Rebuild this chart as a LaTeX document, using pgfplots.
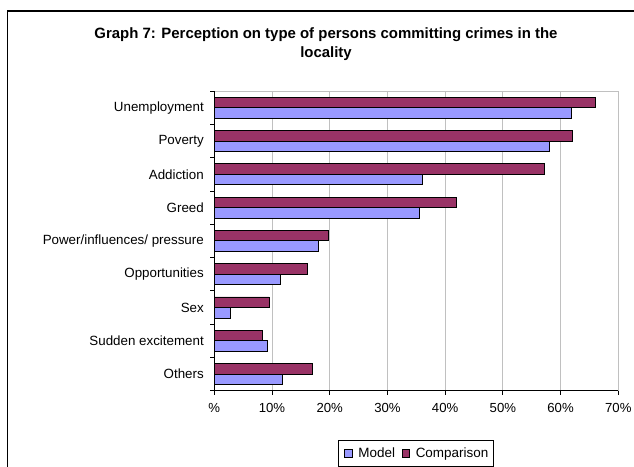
\documentclass[border=0pt]{standalone}
\usepackage{pgfplots}
\pgfplotsset{compat=1.18}
\usepackage{fontspec}
\setmainfont{Liberation Sans}
\definecolor{modelc}{HTML}{9999FF}
\definecolor{compc}{HTML}{993366}
\definecolor{gridgray}{HTML}{C0C0C0}
\begin{document}
\begin{tikzpicture}
\useasboundingbox (0bp,0bp) rectangle (634bp,-467bp);
\clip (0bp,0bp) rectangle (634bp,-467bp);
\fill[white] (0bp,0bp) rectangle (634bp,-467bp);
\draw[black, line width=1.5bp] (7.3bp,-11bp) rectangle (700bp,-520bp);
\node[font=\fontsize{15}{19}\selectfont\bfseries, align=center] at (326bp,-44bp) {Graph 7: Perception on type of persons committing crimes in the\\locality};
\begin{axis}[
  at={(214.3bp,-390.7bp)}, anchor=south west,
  scale only axis, width=404bp, height=299.7bp,
  xbar, bar width=10.5bp,
  xmin=0, xmax=70, ymin=-0.5, ymax=8.5,
  xtick={0,10,...,70},
  xticklabels={\%,10\%,20\%,30\%,40\%,50\%,60\%,70\%},
  ytick={0,...,8},
  yticklabels={Others,Sudden excitement,Sex,Opportunities,Power/influences/ pressure,Greed,Addiction,Poverty,Unemployment},
  minor ytick={-0.5,0.5,...,8.5},
  xtick pos=bottom, ytick pos=left,
  tick align=outside, major tick length=4bp, minor tick length=4bp,
  major y tick style={draw=none},
  minor y tick style={black, line width=0.8bp},
  major x tick style={black, line width=0.8bp},
  xmajorgrids, grid style={gridgray, line width=0.8bp},
  axis line style={draw=gridgray, line width=0.8bp},
  /pgf/number format/assume math mode=true,
  x tick label style={font=\fontsize{13.2}{15}\selectfont, yshift=-5bp},
  y tick label style={font=\fontsize{13.4}{15}\selectfont, xshift=-3bp},
  legend style={at={(0.5,-0.1645)}, anchor=north, legend columns=2, draw=black, line width=0.8bp,
    font=\fontsize{13.5}{15}\selectfont, nodes={inner sep=0bp}, inner xsep=5.5bp, inner ysep=7.5bp,
    /tikz/every odd column/.append style={column sep=5.7bp},
    /tikz/every even column/.append style={column sep=6.6bp}},
  legend image code/.code={\draw[#1, draw=black, line width=0.8bp] (0bp,-3.8bp) rectangle (7.6bp,3.8bp);},
  after end axis/.code={\draw[black, line width=0.9bp] (rel axis cs:0,1) -- (rel axis cs:0,0) -- (rel axis cs:1,0);},
  clip=false,
]
\addplot[fill=modelc, draw=black, line width=0.8bp, bar shift=-5.25bp] coordinates {
  (11.8,0) (9.2,1) (2.8,2) (11.5,3) (18.0,4) (35.5,5) (36.1,6) (58.1,7) (61.8,8)};
\addlegendentry{Model}
\addplot[fill=compc, draw=black, line width=0.8bp, bar shift=5.25bp] coordinates {
  (17.0,0) (8.3,1) (9.5,2) (16.1,3) (19.8,4) (41.9,5) (57.2,6) (62.0,7) (66.0,8)};
\addlegendentry{Comparison}
\end{axis}
\end{tikzpicture}
\end{document}
